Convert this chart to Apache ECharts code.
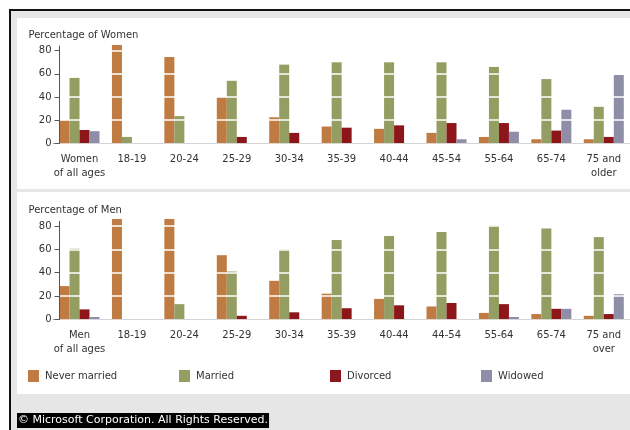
<!DOCTYPE html>
<html>
<head>
<meta charset="utf-8">
<style>
html,body{margin:0;padding:0;background:#ffffff;}
#chart{width:630px;height:430px;}
</style>
<script src="https://cdn.jsdelivr.net/npm/echarts@6/dist/echarts.min.js"></script>
</head>
<body>
<div id="chart"></div>
<script>
// ---- data ----
const womenCategories = ['Women\nof all ages','18-19','20-24','25-29','30-34','35-39','40-44','45-54','55-64','65-74','75 and\nolder'];
const menCategories = ['Men\nof all ages','18-19','20-24','25-29','30-34','35-39','40-44','44-54','55-64','65-74','75 and\nover'];
const seriesNames = ['Never married','Married','Divorced','Widowed'];
const womenNeverMarried = [20, 85, 74.5, 40, 22.5, 14.5, 12.5, 9, 5.5, 3.5, 3.5];
const womenMarried      = [56.5, 5.5, 23.5, 54, 68, 70, 70, 70, 66, 55.5, 31.5];
const womenDivorced     = [11.5, 0, 0, 5.5, 9, 13.5, 15.5, 17.5, 17.5, 11, 5.5];
const womenWidowed      = [10.5, 0, 0, 0, 0, 0, 0, 3.5, 10, 29, 59];
const menNeverMarried = [28.5, 86, 86, 55, 33, 22, 17.5, 11, 5.5, 4.5, 3];
const menMarried      = [60.5, 0, 13, 41, 60, 68, 71.5, 75, 80.5, 78, 70.5];
const menDivorced     = [8.5, 0, 0, 3, 6, 9.5, 12, 14, 13, 9, 4.5];
const menWidowed      = [2, 0, 0, 0, 0, 0, 0, 0, 2, 9, 21.5];
const yTicks = [0, 20, 40, 60, 80];
const colors = ['#C07B42', '#949E62', '#8C1619', '#8E8EA8'];

const FONT = 'DejaVu Sans';
const chart = echarts.init(document.getElementById('chart'), null, {renderer: 'canvas'});

function xAxisFor(grid, cats) {
  return {
    type: 'category', gridIndex: grid, data: cats,
    axisLine: {lineStyle: {color: '#555555', width: 1}},
    axisTick: {show: false},
    axisLabel: {interval: 0, margin: 9, lineHeight: 14, color: '#333333', fontFamily: FONT, fontSize: 10}
  };
}
function yAxisFor(grid, title) {
  return {
    type: 'value', gridIndex: grid, min: 0, max: 84, offset: -6.2, z: 5,
    name: title, nameLocation: 'end', nameGap: 6,
    nameTextStyle: {color: '#333333', fontFamily: FONT, fontSize: 10, align: 'left', padding: [0, 0, 0, -31]},
    axisLine: {show: true, lineStyle: {color: '#555555', width: 1}},
    axisTick: {show: true, length: 5, customValues: yTicks, lineStyle: {color: '#555555'}},
    axisLabel: {customValues: yTicks, margin: 8, color: '#333333', fontFamily: FONT, fontSize: 10},
    splitLine: {show: true, lineStyle: {color: '#ffffff', width: 1.5}}
  };
}
const womenData = [womenNeverMarried, womenMarried, womenDivorced, womenWidowed];
const menData = [menNeverMarried, menMarried, menDivorced, menWidowed];
const series = [];
[womenData, menData].forEach((set, g) => {
  set.forEach((vals, i) => {
    series.push({
      type: 'bar', name: seriesNames[i], xAxisIndex: g, yAxisIndex: g,
      data: vals, barWidth: 10, barGap: '0%', clip: false,
      itemStyle: {color: colors[i]}, z: 2
    });
  });
});
const legendLeft = [23, 174, 325, 476];
const legends = seriesNames.map((n, i) => ({
  left: legendLeft[i], top: 365, data: [n], icon: 'rect', itemWidth: 11, itemHeight: 12,
  itemGap: 0, selectedMode: false,
  textStyle: {color: '#333333', fontFamily: FONT, fontSize: 10, padding: [0, 0, 0, 1]}
}));

chart.setOption({
  animation: false,
  color: colors,
  graphic: {elements: [
    {type: 'rect', shape: {x: 9, y: 9, width: 630, height: 430}, style: {fill: '#111111'}, z: -100, silent: true},
    {type: 'rect', shape: {x: 11, y: 11, width: 630, height: 430}, style: {fill: '#e6e6e6'}, z: -99, silent: true},
    {type: 'rect', shape: {x: 17, y: 18, width: 620, height: 171}, style: {fill: '#ffffff'}, z: -98, silent: true},
    {type: 'rect', shape: {x: 17, y: 192, width: 620, height: 202}, style: {fill: '#ffffff'}, z: -98, silent: true},
    {type: 'text', left: 17, top: 413, z: 100, silent: true,
      style: {text: '\u00A9 Microsoft Corporation. All Rights Reserved.', fill: '#ffffff', backgroundColor: '#000000',
        font: '11px "DejaVu Sans"', padding: [2, 1, 2, 1]}}
  ]},
  legend: legends,
  grid: [
    {left: 53.3, top: 46.1, width: 579.7, height: 97.2},
    {left: 53.3, top: 221.4, width: 579.7, height: 97.9}
  ],
  xAxis: [xAxisFor(0, womenCategories), xAxisFor(1, menCategories)],
  yAxis: [yAxisFor(0, 'Percentage of Women'), yAxisFor(1, 'Percentage of Men')],
  series: series
});
</script>
</body>
</html>
